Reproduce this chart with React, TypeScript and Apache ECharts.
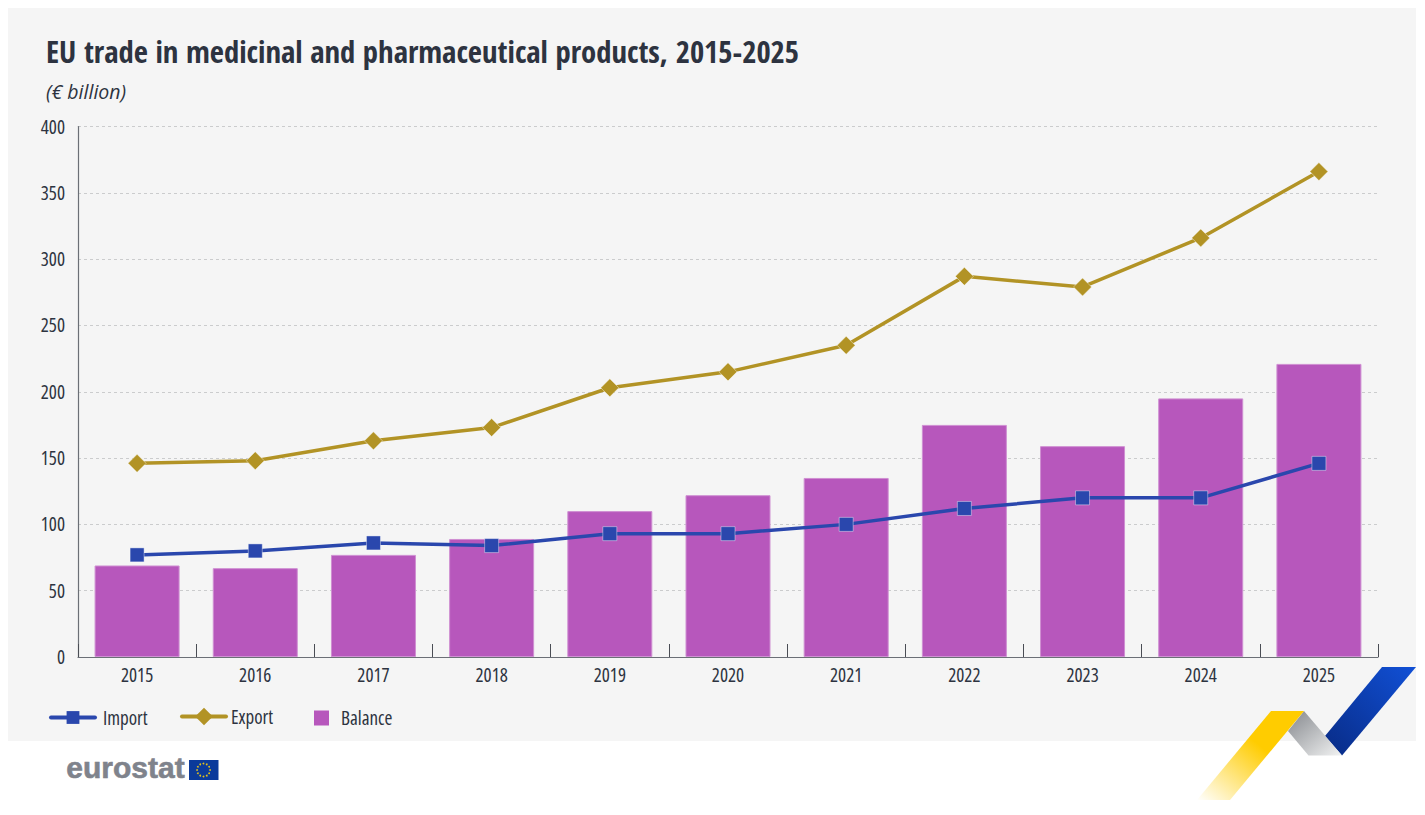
import React, { useEffect, useRef } from "react";
import * as echarts from "echarts";

const years = ["2015", "2016", "2017", "2018", "2019", "2020", "2021", "2022", "2023", "2024", "2025"];
const importValues = [77, 80, 86, 84, 93, 93, 100, 112, 120, 120, 146];
const exportValues = [146, 148, 163, 173, 203, 215, 235, 287, 279, 316, 366];
const balanceValues = [69, 67, 77, 89, 110, 122, 135, 175, 159, 195, 221];

const FONT = "'Open Sans', 'Roboto Condensed', sans-serif";
const TITLE_FONT = "'Open Sans Condensed', 'Roboto Condensed', sans-serif";
const INK = "#2d3340";
const LABEL = 19;

function grad(x: number, y: number, x2: number, y2: number, c0: string, c1: string) {
  return new echarts.graphic.LinearGradient(x, y, x2, y2, [
    { offset: 0, color: c0 },
    { offset: 1, color: c1 },
  ]);
}

function flagStars() {
  const cx = 203.5;
  const cy = 770;
  const r = 6.5;
  const out: any[] = [];
  for (let i = 0; i < 12; i++) {
    const a = (i * Math.PI) / 6;
    out.push({
      type: "circle",
      silent: true,
      z: 12,
      shape: { cx: cx + r * Math.sin(a), cy: cy - r * Math.cos(a), r: 0.9 },
      style: { fill: "#e3c21c" },
    });
  }
  return out;
}

export default function App() {
  const ref = useRef<HTMLDivElement>(null);
  useEffect(() => {
    const chart = echarts.init(ref.current!, undefined, { renderer: "svg" });
    const legendText = (pad: number) => ({
      color: INK,
      fontSize: LABEL,
      fontFamily: FONT,
      padding: [0, 0, 0, pad],
    });
    chart.setOption({
      animation: false,
      backgroundColor: "#ffffff",
      textStyle: { fontFamily: FONT },
      grid: { left: 78, right: 47, top: 126.5, bottom: 158, containLabel: false },
      xAxis: {
        type: "category",
        data: years,
        boundaryGap: true,
        axisLine: { show: true, lineStyle: { color: "#6b6f76", width: 1.2 } },
        axisTick: { show: true, length: 13, inside: true, lineStyle: { color: "#4a4d54", width: 1 } },
        axisLabel: { color: INK, fontSize: LABEL, margin: 8, fontFamily: FONT },
      },
      yAxis: {
        type: "value",
        min: 0,
        max: 400,
        interval: 50,
        axisLine: { show: true, lineStyle: { color: "#6b6f76", width: 1.2 } },
        axisTick: { show: false },
        axisLabel: { color: INK, fontSize: LABEL, margin: 13, fontFamily: FONT },
        splitLine: { show: true, lineStyle: { color: "#cbcccd", type: [3, 3], width: 1 } },
      },
      legend: [
        {
          data: ["Import"], left: 49, top: 708, itemWidth: 44, itemHeight: 16, itemGap: 0, padding: 0,
          lineStyle: { width: 4, cap: "round" }, itemStyle: { borderWidth: 0 },
          textStyle: legendText(3),
        },
        {
          data: ["Export"], left: 180, top: 707, itemWidth: 44, itemHeight: 22, itemGap: 0, padding: 0,
          lineStyle: { width: 4, cap: "round" }, itemStyle: { borderWidth: 0 },
          textStyle: legendText(0),
        },
        {
          data: [{ name: "Balance", icon: "rect" }], left: 314, top: 708.5, itemWidth: 15, itemHeight: 15, itemGap: 0, padding: 0,
          itemStyle: { borderWidth: 0 },
          textStyle: legendText(7),
        },
      ],
      series: [
        {
          name: "Balance",
          type: "bar",
          data: balanceValues,
          barWidth: 85,
          itemStyle: { color: "#b757bc", borderColor: "#cf8fd2", borderWidth: 1 },
          z: 1,
        },
        {
          name: "Export",
          type: "line",
          data: exportValues,
          symbol: "diamond",
          symbolSize: 18,
          lineStyle: { color: "#b29325", width: 3.5 },
          itemStyle: { color: "#b29325", borderColor: "rgba(255,255,255,0.55)", borderWidth: 0.75 },
          z: 3,
        },
        {
          name: "Import",
          type: "line",
          data: importValues,
          symbol: "rect",
          symbolSize: 14,
          lineStyle: { color: "#2a47ad", width: 3.5 },
          itemStyle: { color: "#2a47ad", borderColor: "rgba(255,255,255,0.55)", borderWidth: 0.75 },
          z: 4,
        },
      ],
      graphic: [
        { type: "rect", z: -10, silent: true, shape: { x: 8, y: 8, width: 1408, height: 733 }, style: { fill: "#f5f5f5" } },
        {
          type: "text", left: 46, top: 35, silent: true,
          style: { text: "EU trade in medicinal and pharmaceutical products, 2015-2025", fill: INK, font: `bold 30.7px ${TITLE_FONT}` },
        },
        {
          type: "text", left: 46, top: 81, silent: true,
          style: { text: "(€ billion)", fill: INK, font: `italic 19.5px 'Open Sans', sans-serif` },
        },
        {
          type: "polygon", silent: true, z: 10,
          shape: { points: [[1382, 667], [1416, 667], [1342, 755.5], [1325, 736]] },
          style: { fill: grad(1, 0, 0, 1, "#1150d6", "#082b85") },
        },
        {
          type: "polygon", silent: true, z: 10,
          shape: { points: [[1304, 711], [1288, 731], [1308.5, 755.5], [1342, 755.5]] },
          style: { fill: grad(0, 0, 1, 1, "#85888d", "#f2f3f3") },
        },
        {
          type: "polygon", silent: true, z: 10,
          shape: { points: [[1271, 711], [1304, 711], [1230, 800], [1197, 800]] },
          style: { fill: grad(0.6, 0.4, 0, 1, "#ffcc00", "#ffffff") },
        },
        {
          type: "text", left: 66, top: 752, silent: true,
          style: { text: "eurostat", fill: "#7f838c", stroke: "#7f838c", lineWidth: 0.6, font: "bold 30px 'Liberation Sans', sans-serif" },
        },
        { type: "rect", silent: true, z: 11, shape: { x: 189, y: 760, width: 29.5, height: 20 }, style: { fill: "#0b3a9b" } },
        ...flagStars(),
      ],
    });
    return () => chart.dispose();
  }, []);
  return (
    <>
      <style>{`#eu-chart text:not([style*="italic"]) { font-stretch: 75% !important; }`}</style>
      <div id="eu-chart" ref={ref} style={{ position: "absolute", left: 0, top: 0, width: 1425, height: 815 }} />
    </>
  );
}
